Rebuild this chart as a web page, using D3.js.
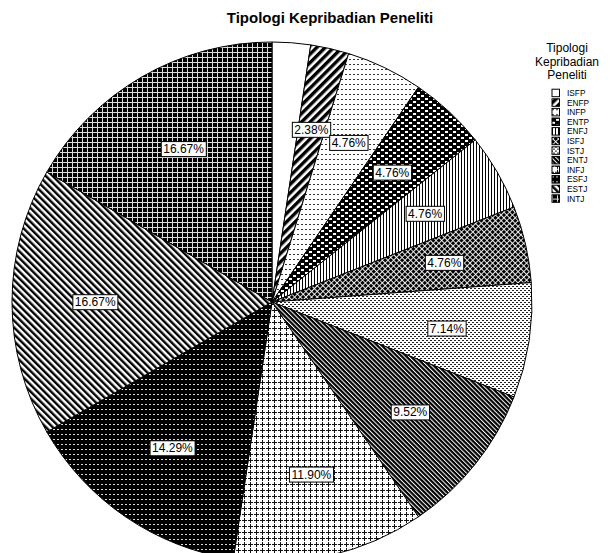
<!DOCTYPE html>
<html>
<head>
<meta charset="utf-8">
<script src="https://cdn.jsdelivr.net/npm/d3@7"></script>
<style>
  html, body { margin: 0; padding: 0; background: #fff; }
  svg { display: block; font-family: "Liberation Sans", Arial, sans-serif; }
</style>
</head>
<body>
<svg id="pie" width="613" height="553"></svg>
<script>
// Pie chart: personality types of the researchers (n = 42)
const TYPES = ["ISFP", "ENFP", "INFP", "ENTP", "ENFJ", "ISFJ", "ISTJ", "ENTJ", "INFJ", "ESFJ", "ESTJ", "INTJ"];
const COUNTS = [1, 1, 2, 2, 2, 2, 3, 4, 5, 6, 7, 7];
const HIDDEN_LABELS = ["ISFP"];
const TITLE = "Tipologi Kepribadian Peneliti";
const LEGEND_TITLE = ["Tipologi", "Kepribadian", "Peneliti"];

const svg = d3.select("#pie");
const cx = 272, cy = 302, R = 260;
const total = d3.sum(COUNTS);
const pct = d3.format(".2f");

// hatch patterns, one per type
const defs = svg.append("defs");
function pat(id, w, h, rot) {
  const p = defs.append("pattern")
    .attr("id", id)
    .attr("patternUnits", "userSpaceOnUse")
    .attr("width", w).attr("height", h);
  if (rot) p.attr("patternTransform", `rotate(${rot})`);
  return p;
}
function rect(p, x, y, w, h, fill) {
  p.append("rect").attr("x", x).attr("y", y).attr("width", w).attr("height", h).attr("fill", fill);
}

let p;
// ISFP: plain white
p = pat("p0", 4, 4); rect(p, 0, 0, 4, 4, "#fff");
// ENFP: thick "/" stripes
p = pat("p1", 6, 6, 45); rect(p, 0, 0, 6, 6, "#fff"); rect(p, 0, 0, 3.4, 6, "#000");
// INFP: small dots
p = pat("p2", 4, 5); rect(p, 0, 0, 4, 5, "#fff"); rect(p, 1, 2, 2, 1, "#333");
// ENTP: brick checker
p = pat("p3", 8, 6); rect(p, 0, 0, 8, 6, "#000"); rect(p, 1, 0, 3, 2, "#fff"); rect(p, 5, 3, 3, 2, "#fff");
// ENFJ: vertical lines
p = pat("p4", 3, 3); rect(p, 0, 0, 3, 3, "#fff"); rect(p, 0, 0, 1, 3, "#000");
// ISFJ: black with white diagonal lattice
p = pat("p5", 4, 4, 45); rect(p, 0, 0, 4, 4, "#000"); rect(p, 0, 0, 0.9, 4, "#fff"); rect(p, 0, 0, 4, 0.9, "#fff");
// ISTJ: fine dotted checker
p = pat("p6", 4, 4); rect(p, 0, 0, 4, 4, "#fff"); rect(p, 0, 0, 2, 1, "#222"); rect(p, 2, 2, 2, 1, "#222");
// ENTJ: black with thin white "\" lines
p = pat("p7", 3.2, 3.2, -45); rect(p, 0, 0, 3.2, 3.2, "#000"); rect(p, 0, 0, 1, 3.2, "#fff");
// INFJ: plus signs
p = pat("p8", 6, 6); rect(p, 0, 0, 6, 6, "#fff"); rect(p, 2, 0, 1, 5, "#111"); rect(p, 0, 2, 5, 1, "#111");
// ESFJ: black with short white dashes
p = pat("p9", 4, 5); rect(p, 0, 0, 4, 5, "#000"); rect(p, 1, 2, 2, 1, "#ddd");
// ESTJ: "\" stripes
p = pat("p10", 4.8, 4.8, -45); rect(p, 0, 0, 4.8, 4.8, "#fff"); rect(p, 0, 0, 2.4, 4.8, "#000");
// INTJ: black with light grid
p = pat("p11", 5, 5); rect(p, 0, 0, 5, 5, "#000"); rect(p, 0, 0, 1, 5, "#ddd"); rect(p, 0, 0, 5, 1, "#ddd");

const fillOf = (i) => `url(#p${i})`;

// title
svg.append("text")
  .attr("x", 330).attr("y", 23)
  .attr("text-anchor", "middle")
  .attr("font-size", 15).attr("font-weight", "bold")
  .text(TITLE);

// pie
const data = TYPES.map((t, i) => ({ type: t, value: COUNTS[i], i }));
const arcs = d3.pie().sort(null).value((d) => d.value)(data);
const arc = d3.arc().innerRadius(0).outerRadius(R);
const labelArc = d3.arc().innerRadius(R * 0.68).outerRadius(R * 0.68);

const g = svg.append("g").attr("transform", `translate(${cx},${cy})`);
g.selectAll("path.slice")
  .data(arcs)
  .join("path")
  .attr("class", "slice")
  .attr("d", arc)
  .attr("fill", (d) => fillOf(d.data.i))
  .attr("stroke", "#000")
  .attr("stroke-width", 1);

// percentage labels in white boxes
const lab = g.selectAll("g.lab")
  .data(arcs.filter((d) => !HIDDEN_LABELS.includes(d.data.type)))
  .join("g")
  .attr("class", "lab")
  .attr("transform", (d) => `translate(${labelArc.centroid(d)})`);
lab.append("text")
  .attr("text-anchor", "middle")
  .attr("dy", "0.35em")
  .attr("font-size", 12)
  .text((d) => pct((d.data.value / total) * 100) + "%");
lab.each(function () {
  const gg = d3.select(this);
  const bb = gg.select("text").node().getBBox();
  gg.insert("rect", "text")
    .attr("x", bb.x - 2).attr("y", bb.y - 0.5)
    .attr("width", bb.width + 4).attr("height", bb.height + 1)
    .attr("fill", "#fff").attr("stroke", "#000").attr("stroke-width", 1);
});

// legend
const lg = svg.append("g").attr("transform", "translate(567,0)");
lg.selectAll("text.lt")
  .data(LEGEND_TITLE)
  .join("text")
  .attr("class", "lt")
  .attr("x", 0).attr("y", (d, i) => 52 + i * 13.5)
  .attr("text-anchor", "middle")
  .attr("font-size", 12)
  .text((d) => d);

const item = lg.selectAll("g.item")
  .data(TYPES)
  .join("g")
  .attr("class", "item")
  .attr("transform", (d, i) => `translate(0,${93 + i * 9.6})`);
item.append("rect")
  .attr("x", -15).attr("y", -3.8)
  .attr("width", 7.5).attr("height", 7.5)
  .attr("fill", (d, i) => fillOf(i))
  .attr("stroke", "#000").attr("stroke-width", 1);
item.append("text")
  .attr("x", 0).attr("dy", "0.35em")
  .attr("font-size", 8.3)
  .text((d) => d);
</script>
</body>
</html>
